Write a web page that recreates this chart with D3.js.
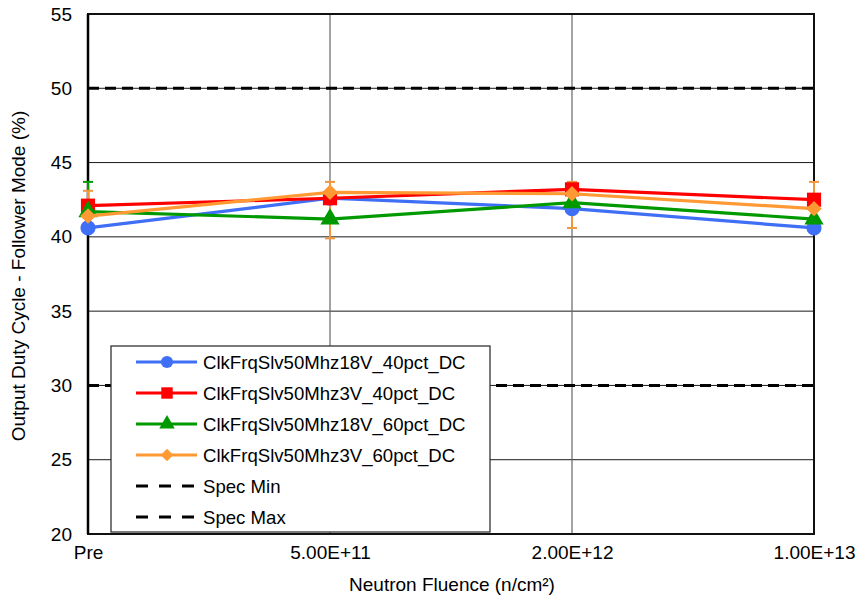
<!DOCTYPE html>
<html>
<head>
<meta charset="utf-8">
<script src="https://cdn.jsdelivr.net/npm/d3@7/dist/d3.min.js"></script>
<style>
  html, body { margin: 0; padding: 0; background: #fff; }
  svg { display: block; font-family: "Liberation Sans", Arial, sans-serif; }
</style>
</head>
<body>
<svg id="chart" width="857" height="601"></svg>
<script>
// Fluence steps (x categories)
const categories = ["Pre", "5.00E+11", "2.00E+12", "1.00E+13"];

// Duty cycle (%) per series, one value per fluence step
const blue40  = [40.6, 42.6, 41.9, 40.6];
const red40   = [42.1, 42.6, 43.2, 42.5];
const green60 = [41.7, 41.2, 42.3, 41.2];
const orange60 = [41.4, 43.0, 42.9, 41.9];

// Spread bars (high / low) drawn for some points
const green60Hi = [43.7, null, null, null];
const orange60Hi = [43.1, 43.7, 43.7, 43.7];
const orange60Lo = [null, 39.9, 40.6, null];

const specMin = 30;
const specMax = 50;

const yTicks = [20, 25, 30, 35, 40, 45, 50, 55];

const seriesNames = [
  "ClkFrqSlv50Mhz18V_40pct_DC",
  "ClkFrqSlv50Mhz3V_40pct_DC",
  "ClkFrqSlv50Mhz18V_60pct_DC",
  "ClkFrqSlv50Mhz3V_60pct_DC"
];

// Diamond drawn as a square turned by 45 degrees
const wideDiamond = {
  draw(ctx, size) {
    const r = Math.sqrt(size / 2);
    ctx.moveTo(0, -r); ctx.lineTo(r, 0); ctx.lineTo(0, r); ctx.lineTo(-r, 0); ctx.closePath();
  }
};

const series = [
  { name: seriesNames[0], values: blue40,   color: "#3f6ff5", symbol: d3.symbolCircle,   size: 180 },
  { name: seriesNames[1], values: red40,    color: "#ff0000", symbol: d3.symbolSquare,   size: 200 },
  { name: seriesNames[2], values: green60,  color: "#009a00", symbol: d3.symbolTriangle, size: 160 },
  { name: seriesNames[3], values: orange60, color: "#ff9933", symbol: wideDiamond,       size: 120 }
];

const svg = d3.select("#chart");
const pL = 88, pR = 814, pT = 14, pB = 534;

const x = d3.scalePoint().domain(categories).range([pL, pR]).padding(0);
const y = d3.scaleLinear().domain([20, 55]).range([pB, pT]);

// Horizontal grid
svg.append("g").selectAll("line")
  .data(yTicks.filter(t => t !== 20 && t !== 55))
  .join("line")
  .attr("x1", pL).attr("x2", pR)
  .attr("y1", d => y(d)).attr("y2", d => y(d))
  .attr("stroke", "#1a1a1a").attr("stroke-width", 1);

// Vertical grid
svg.append("g").selectAll("line")
  .data(categories.slice(1, -1))
  .join("line")
  .attr("x1", d => x(d)).attr("x2", d => x(d))
  .attr("y1", pT).attr("y2", pB)
  .attr("stroke", "#666").attr("stroke-width", 1.2);

// Plot frame
svg.append("rect")
  .attr("x", pL).attr("y", pT)
  .attr("width", pR - pL).attr("height", pB - pT)
  .attr("fill", "none").attr("stroke", "#111").attr("stroke-width", 2);
svg.append("line").attr("x1", pL).attr("x2", pL).attr("y1", pT).attr("y2", pB)
  .attr("stroke", "#000").attr("stroke-width", 2.5);

// Spec limits
[specMin, specMax].forEach(v => {
  svg.append("line")
    .attr("x1", pL).attr("x2", pR)
    .attr("y1", y(v)).attr("y2", y(v))
    .attr("stroke", "#000").attr("stroke-width", 3)
    .attr("stroke-dasharray", "11,6");
});

// Y axis labels
const yAxis = d3.axisLeft(y).tickValues(yTicks).tickSize(0).tickPadding(16);
const gy = svg.append("g").attr("transform", `translate(${pL},0)`).call(yAxis);
gy.select(".domain").remove();
gy.selectAll("text").attr("font-size", 19).attr("fill", "#000")
  .attr("font-family", "Liberation Sans, Arial, sans-serif");

// X axis labels
const xAxis = d3.axisBottom(x).tickSize(0).tickPadding(12);
const gx = svg.append("g").attr("transform", `translate(0,${pB})`).call(xAxis);
gx.select(".domain").remove();
gx.selectAll("text").attr("font-size", 19).attr("fill", "#000")
  .attr("font-family", "Liberation Sans, Arial, sans-serif");

// Axis titles
svg.append("text")
  .attr("x", 452).attr("y", 591)
  .attr("text-anchor", "middle").attr("font-size", 19)
  .text("Neutron Fluence (n/cm²)");
svg.append("text")
  .attr("transform", `translate(25,276) rotate(-90)`)
  .attr("text-anchor", "middle").attr("font-size", 19)
  .text("Output Duty Cycle - Follower Mode (%)");

// Spread bars
function spreadBars(hi, lo, mids, color) {
  const g = svg.append("g").attr("stroke", color).attr("stroke-width", 2);
  categories.forEach((c, i) => {
    const cx = x(c);
    [hi ? hi[i] : null, lo ? lo[i] : null].forEach(end => {
      if (end == null) return;
      g.append("line").attr("x1", cx).attr("x2", cx)
        .attr("y1", y(end)).attr("y2", y(mids[i]));
      g.append("line").attr("x1", cx - 5).attr("x2", cx + 5)
        .attr("y1", y(end)).attr("y2", y(end));
    });
  });
}
spreadBars(green60Hi, null, green60, "#009a00");
spreadBars(orange60Hi, orange60Lo, orange60, "#f0963c");

// Series lines and markers
const line = d3.line().x((d, i) => x(categories[i])).y(d => y(d));
series.forEach(s => {
  svg.append("path").datum(s.values)
    .attr("d", line).attr("fill", "none")
    .attr("stroke", s.color).attr("stroke-width", 3.2);
  svg.append("g").selectAll("path")
    .data(s.values).join("path")
    .attr("transform", (d, i) => `translate(${x(categories[i])},${y(d)})`)
    .attr("d", d3.symbol().type(s.symbol).size(s.size))
    .attr("fill", s.color);
});

// Legend
const lg = svg.append("g");
lg.append("rect").attr("x", 111).attr("y", 346).attr("width", 379).attr("height", 186)
  .attr("fill", "#fff").attr("stroke", "#222").attr("stroke-width", 1.2);
const legendItems = series.map(s => ({ label: s.name, color: s.color, symbol: s.symbol, size: s.size * 0.65, dash: null }))
  .concat([{ label: "Spec Min", color: "#000", dash: "12,11" }, { label: "Spec Max", color: "#000", dash: "12,11" }]);
legendItems.forEach((d, i) => {
  const yy = 362 + i * 31;
  lg.append("line").attr("x1", 136).attr("x2", 197).attr("y1", yy).attr("y2", yy)
    .attr("stroke", d.color).attr("stroke-width", 3)
    .attr("stroke-dasharray", d.dash);
  if (d.symbol) {
    lg.append("path").attr("transform", `translate(167,${yy})`)
      .attr("d", d3.symbol().type(d.symbol).size(d.size)).attr("fill", d.color);
  }
  lg.append("text").attr("x", 203).attr("y", yy).attr("dy", "0.35em")
    .attr("font-size", 18.6).text(d.label);
});
</script>
</body>
</html>
